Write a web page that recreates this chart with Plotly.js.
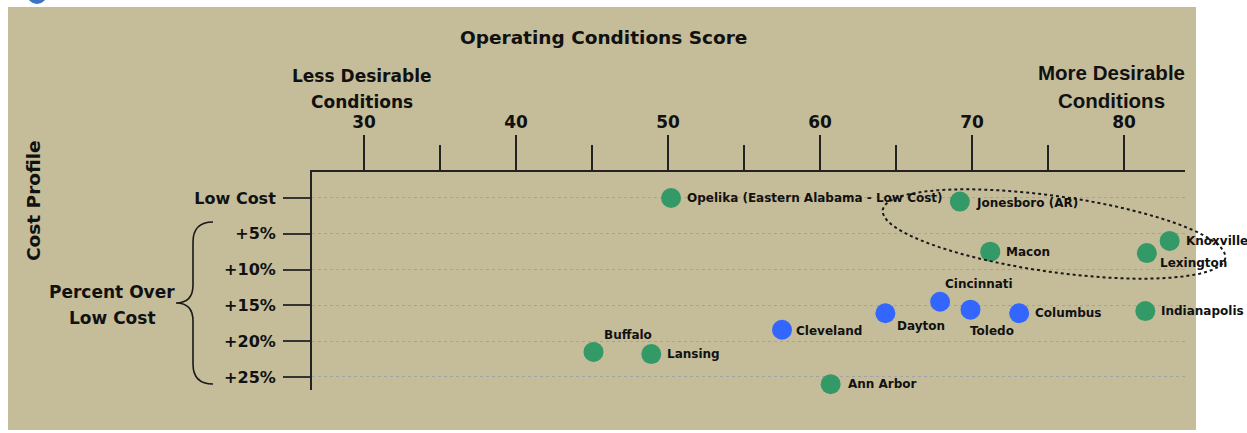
<!DOCTYPE html>
<html>
<head>
<meta charset="utf-8">
<script src="https://cdn.plot.ly/plotly-3.0.1.min.js"></script>
<style>html,body{margin:0;padding:0;background:#fff;}#chart{width:1247px;height:433px;}</style>
</head>
<body>
<div id="chart"></div>
<script>
// ---- data ----
var cities = ["Opelika (Eastern Alabama - Low Cost)", "Jonesboro (AR)", "Macon", "Knoxville", "Lexington",
              "Indianapolis", "Cincinnati", "Dayton", "Toledo", "Columbus", "Cleveland", "Buffalo", "Lansing", "Ann Arbor"];
var score = [50.2, 69.2, 71.2, 83.0, 81.5, 81.4, 67.9, 64.3, 69.9, 73.1, 57.5, 45.1, 48.9, 60.7];
var costPct = [0, 0.5, 7.5, 6.0, 7.7, 15.8, 14.5, 16.1, 15.6, 16.1, 18.4, 21.5, 21.8, 26.0];
var group = ["other", "other", "other", "other", "other", "other", "ohio", "ohio", "ohio", "ohio", "ohio", "other", "other", "other"];
var xTickVals = [30, 40, 50, 60, 70, 80];
var xMinorVals = [35, 45, 55, 65, 75];
var yTickVals = [0, 5, 10, 15, 20, 25];
var yTickText = ["Low Cost", "+5%", "+10%", "+15%", "+20%", "+25%"];

// ---- styling / placement ----
var W = 1247, H = 433;
var M = {l: 312, r: 62, t: 172, b: 43};
var PW = W - M.l - M.r, PH = H - M.t - M.b;
var groupColor = {other: "#339966", ohio: "#3366ff"};
// label offsets in pixels [dx, dy(up)]
var labelOffset = {
  "Opelika (Eastern Alabama - Low Cost)": [14, 0],
  "Jonesboro (AR)": [14, -1],
  "Macon": [14, 0],
  "Knoxville": [14, 0],
  "Lexington": [11, -10],
  "Indianapolis": [14, 0],
  "Cincinnati": [3, 18],
  "Dayton": [10, -13],
  "Toledo": [-3, -21],
  "Columbus": [14, 0],
  "Cleveland": [12, -1],
  "Buffalo": [8, 17],
  "Lansing": [14, 0],
  "Ann Arbor": [15, 0]
};
function px(x) { return (x - M.l) / PW; }
function py(y) { return (H - M.b - y) / PH; }
function pathFromPx(cmds) {
  return cmds.map(function (c) {
    var s = c[0];
    for (var i = 1; i < c.length; i += 2) {
      s += " " + px(c[i]).toFixed(5) + "," + py(c[i + 1]).toFixed(5);
    }
    return s;
  }).join(" ");
}

var traces = ["other", "ohio"].map(function (g) {
  var xs = [], ys = [], ts = [];
  for (var i = 0; i < cities.length; i++) {
    if (group[i] === g) { xs.push(score[i]); ys.push(costPct[i]); ts.push(cities[i]); }
  }
  return {
    type: "scatter", mode: "markers", x: xs, y: ys, text: ts,
    hoverinfo: "text", cliponaxis: false,
    marker: {size: 20, color: groupColor[g], line: {width: 0}},
    showlegend: false
  };
});

var labelFont = {family: "DejaVu Sans", size: 12, color: "#111"};
var annotations = [];
for (var i = 0; i < cities.length; i++) {
  var off = labelOffset[cities[i]];
  annotations.push({
    x: score[i], y: costPct[i], xref: "x", yref: "y", text: "<b>" + cities[i] + "</b>",
    showarrow: false, xanchor: "left", yanchor: "middle", xshift: off[0], yshift: off[1],
    font: labelFont
  });
}
var hdr = {family: "DejaVu Sans", size: 17, color: "#111"};
function paperText(text, x, y, font, extra) {
  var a = {text: text, xref: "paper", yref: "paper", x: px(x), y: py(y), showarrow: false,
           xanchor: "center", yanchor: "middle", font: font};
  if (extra) for (var k in extra) a[k] = extra[k];
  return a;
}
annotations.push(paperText("<b>Operating Conditions Score</b>", 603, 37, {family: "DejaVu Sans", size: 18.5, color: "#111"}));
annotations.push(paperText("<b>Less Desirable</b>", 362, 76, hdr));
annotations.push(paperText("<b>Conditions</b>", 362, 102, hdr));
var ar = {family: "Liberation Sans", size: 20.5, color: "#111"};
annotations.push(paperText("<b>More Desirable</b>", 1111, 73, ar));
annotations.push(paperText("<b>Conditions</b>", 1111, 100, ar));
annotations.push(paperText("<b>Cost Profile</b>", 33, 201, {family: "DejaVu Sans", size: 18.5, color: "#111"}, {textangle: -90}));
annotations.push(paperText("<b>Percent Over</b>", 112, 292, hdr));
annotations.push(paperText("<b>Low Cost</b>", 112, 318, hdr));

// ellipse (pixel space)
var ell = [];
var cx = 1054, cy = 234, ea = 173, eb = 38, th = 8 * Math.PI / 180;
for (var k = 0; k <= 72; k++) {
  var t = 2 * Math.PI * k / 72;
  var ex = cx + ea * Math.cos(th) * Math.cos(t) - eb * Math.sin(th) * Math.sin(t);
  var ey = cy + ea * Math.sin(th) * Math.cos(t) + eb * Math.cos(th) * Math.sin(t);
  ell.push([k === 0 ? "M" : "L", ex, ey]);
}
var ellPath = pathFromPx(ell) + " Z";

var bracePath = pathFromPx([
  ["M", 213, 222], ["Q", 193, 222, 193, 242], ["L", 193, 285], ["Q", 193, 303, 176, 303],
  ["Q", 193, 303, 193, 321], ["L", 193, 364], ["Q", 193, 384, 213, 384]
]);

var shapes = [
  {type: "rect", xref: "paper", yref: "paper", x0: px(8), x1: px(1196), y0: py(430), y1: py(7),
   fillcolor: "#c5bd99", line: {width: 0}, layer: "below"},
  {type: "circle", xref: "paper", yref: "paper", x0: px(27), x1: px(47), y0: py(4), y1: py(-16),
   fillcolor: "#3d74c4", line: {width: 0}, layer: "below"},
  {type: "path", xref: "paper", yref: "paper", path: ellPath,
   line: {color: "#1a1a1a", width: 2, dash: "dot"}, fillcolor: "rgba(0,0,0,0)", layer: "above"},
  {type: "path", xref: "paper", yref: "paper", path: bracePath,
   line: {color: "#1a1a1a", width: 1.6}, fillcolor: "rgba(0,0,0,0)", layer: "above"}
];

var layout = {
  width: W, height: H,
  margin: M,
  paper_bgcolor: "#ffffff",
  plot_bgcolor: "rgba(0,0,0,0)",
  showlegend: false,
  xaxis: {
    side: "top", range: [26.58, 84.01], autorange: false,
    tickmode: "array", tickvals: xTickVals, ticktext: xTickVals.map(String),
    ticks: "outside", ticklen: 35, tickwidth: 2, tickcolor: "#222",
    minor: {tickmode: "array", tickvals: xMinorVals, ticks: "outside", ticklen: 25, tickwidth: 2, tickcolor: "#222", showgrid: false},
    showline: true, linewidth: 2, linecolor: "#222",
    showgrid: false, zeroline: false,
    tickfont: {family: "DejaVu Sans", size: 17, color: "#111", weight: "bold"}
  },
  yaxis: {
    range: [26.82, -3.63], autorange: false,
    tickmode: "array", tickvals: yTickVals, ticktext: yTickText,
    ticks: "outside", ticklen: 27, tickwidth: 2, tickcolor: "#333",
    showline: true, linewidth: 2, linecolor: "#222",
    showgrid: true, gridcolor: "#a3a3a3", gridwidth: 1, griddash: "dot",
    zeroline: false, ticklabelstandoff: 4,
    tickfont: {family: "DejaVu Sans", size: 16, color: "#111", weight: "bold"}
  },
  annotations: annotations,
  shapes: shapes
};

Plotly.newPlot("chart", traces, layout, {displayModeBar: false, staticPlot: true});
</script>
</body>
</html>
